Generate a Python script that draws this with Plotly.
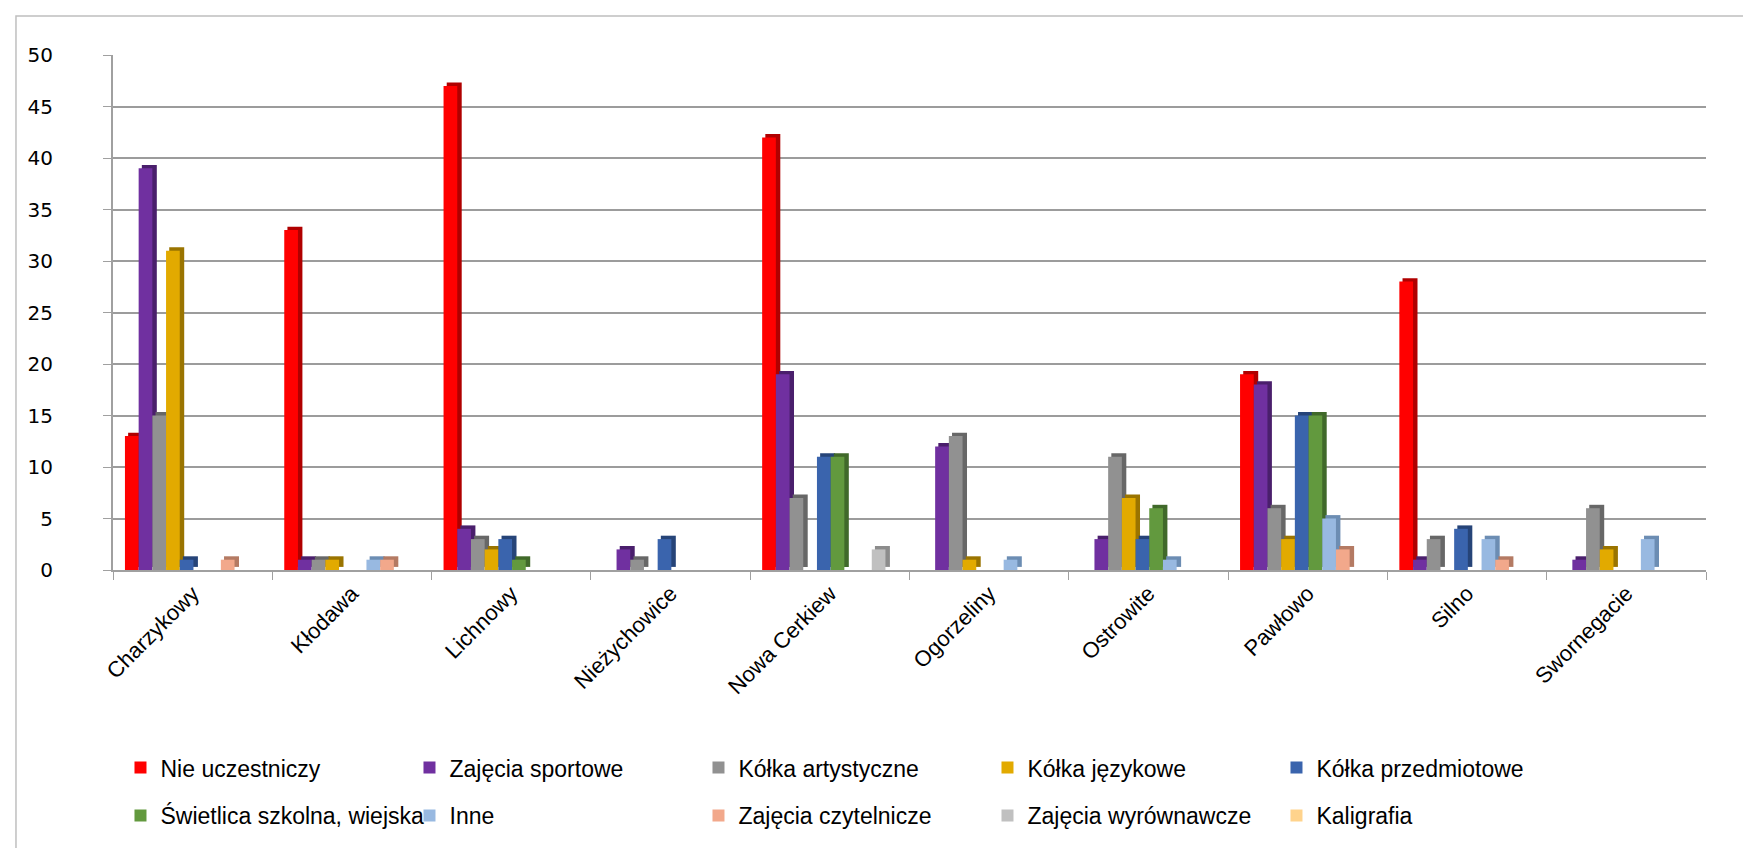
import plotly.graph_objects as go

# -------------------------
# 1. DANE
# -------------------------
categories = ["Charzykowy", "Kłodawa", "Lichnowy", "Nieżychowice", "Nowa Cerkiew",
              "Ogorzeliny", "Ostrowite", "Pawłowo", "Silno", "Swornegacie"]

series_names = ["Nie uczestniczy", "Zajęcia sportowe", "Kółka artystyczne", "Kółka językowe",
                "Kółka przedmiotowe", "Świetlica szkolna, wiejska", "Inne",
                "Zajęcia czytelnicze", "Zajęcia wyrównawcze", "Kaligrafia"]

nie_uczestniczy = [13, 33, 47, 0, 42, 0, 0, 19, 28, 0]
zajecia_sportowe = [39, 1, 4, 2, 19, 12, 3, 18, 1, 1]
kolka_artystyczne = [15, 1, 3, 1, 7, 13, 11, 6, 3, 6]
kolka_jezykowe = [31, 1, 2, 0, 0, 1, 7, 3, 0, 2]
kolka_przedmiotowe = [1, 0, 3, 3, 11, 0, 3, 15, 4, 0]
swietlica = [0, 0, 1, 0, 11, 0, 6, 15, 0, 0]
inne = [0, 1, 0, 0, 0, 1, 1, 5, 3, 3]
zajecia_czytelnicze = [1, 1, 0, 0, 0, 0, 0, 2, 1, 0]
zajecia_wyrownawcze = [0, 0, 0, 0, 2, 0, 0, 0, 0, 0]
kaligrafia = [0, 0, 0, 0, 0, 0, 0, 0, 0, 0]

y_ticks = [0, 5, 10, 15, 20, 25, 30, 35, 40, 45, 50]

all_series = [nie_uczestniczy, zajecia_sportowe, kolka_artystyczne, kolka_jezykowe,
              kolka_przedmiotowe, swietlica, inne, zajecia_czytelnicze,
              zajecia_wyrownawcze, kaligrafia]

# kolor czoła, kolor boku (efekt 3D)
colors = [("#FF0000", "#B00000"), ("#7030A0", "#4A1F6C"), ("#919191", "#676767"),
          ("#E2AA00", "#9A7400"), ("#3A64AD", "#264478"), ("#62993E", "#40692A"),
          ("#98B9E1", "#6C8DB3"), ("#F2A88B", "#B47A63"), ("#C0C0C0", "#8C8C8C"),
          ("#FFD38C", "#C29A5C")]

# -------------------------
# 2. WYKRES
# -------------------------
face_w = 0.086
start = -0.425
depth_x = 0.028
depth_y = 0.33

fig = go.Figure()
for i, (name, vals) in enumerate(zip(series_names, all_series)):
    face, side = colors[i]
    vals_nz = [v if v else None for v in vals]
    off = start + i * face_w
    # bok / góra słupka (pseudo 3D)
    fig.add_trace(go.Bar(
        x=categories, y=[v + depth_y - 0.3 if v else None for v in vals],
        base=0.3, offset=off + 0.02, width=face_w - 0.02 + depth_x,
        marker=dict(color=side, line=dict(width=0)),
        showlegend=False, hoverinfo="skip"))
    fig.add_trace(go.Bar(
        x=categories, y=vals_nz, name=name,
        offset=off, width=face_w,
        marker=dict(color=face, line=dict(width=0)),
        legend="legend" if i < 5 else "legend2"))

legend_style = dict(orientation="h", x=0.0047, yanchor="top", xanchor="left",
                    entrywidth=244, entrywidthmode="pixels", font=dict(size=23),
                    bgcolor="rgba(0,0,0,0)")

fig.update_layout(
    barmode="overlay",
    width=1751, height=848,
    margin=dict(l=105, r=53, t=47, b=286, autoexpand=False),
    paper_bgcolor="white", plot_bgcolor="white",
    font=dict(family="Liberation Sans, sans-serif", color="black"),
    xaxis=dict(
        tickson="boundaries", ticks="outside", ticklen=8, tickcolor="#A0A0A0",
        tickangle=-45, tickfont=dict(size=22), automargin=False,
        showline=True, linecolor="#A0A0A0", linewidth=2,
        showgrid=False, range=[-0.5, 9.5]),
    yaxis=dict(
        range=[0, 50], tickvals=y_ticks, ticks="outside", ticklen=8,
        tickcolor="#A0A0A0", tickfont=dict(family="DejaVu Sans", size=20),
        ticklabelstandoff=46, automargin=False,
        showline=True, linecolor="#A0A0A0", linewidth=2,
        showgrid=True, gridcolor="#9C9C9C", gridwidth=2, zeroline=False),
    legend=dict(legend_style, y=-0.342),
    legend2=dict(legend_style, y=-0.435),
    shapes=[dict(type="rect", xref="paper", yref="paper",
                 x0=-0.0609, x1=1.028, y0=-0.7, y1=1.0757,
                 line=dict(color="#BFBFBF", width=1.5), layer="below")],
)

fig.write_html("out.html")
